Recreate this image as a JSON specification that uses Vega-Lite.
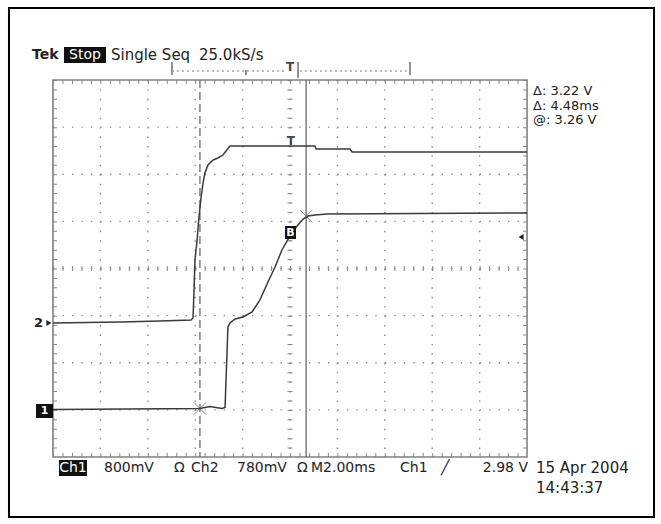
{
  "$schema": "https://vega.github.io/schema/vega-lite/v6.json",
  "width": 661,
  "height": 524,
  "padding": 0,
  "autosize": {"type": "none"},
  "background": "white",
  "config": {"view": {"stroke": null}, "axis": {"disable": true}, "legend": {"disable": true}, "text": {"font": "DejaVu Sans"}},
  "datasets": {
    "traces": [
      {"ch": "CH2", "t": 0, "v": -1.156}, {"ch": "CH2", "t": 2.83, "v": -1.135}, {"ch": "CH2", "t": 4.52, "v": -1.114},
      {"ch": "CH2", "t": 5.82, "v": -1.093}, {"ch": "CH2", "t": 5.91, "v": -1.05}, {"ch": "CH2", "t": 5.95, "v": -0.456},
      {"ch": "CH2", "t": 5.99, "v": 0.18}, {"ch": "CH2", "t": 6.08, "v": 0.605}, {"ch": "CH2", "t": 6.16, "v": 1.093},
      {"ch": "CH2", "t": 6.25, "v": 1.517}, {"ch": "CH2", "t": 6.33, "v": 1.814}, {"ch": "CH2", "t": 6.41, "v": 2.027},
      {"ch": "CH2", "t": 6.54, "v": 2.196}, {"ch": "CH2", "t": 6.75, "v": 2.302}, {"ch": "CH2", "t": 6.96, "v": 2.345},
      {"ch": "CH2", "t": 7.17, "v": 2.408}, {"ch": "CH2", "t": 7.47, "v": 2.599}, {"ch": "CH2", "t": 8.73, "v": 2.599},
      {"ch": "CH2", "t": 10.0, "v": 2.6}, {"ch": "CH2", "t": 11.05, "v": 2.599}, {"ch": "CH2", "t": 11.1, "v": 2.536},
      {"ch": "CH2", "t": 12.53, "v": 2.536}, {"ch": "CH2", "t": 12.62, "v": 2.472}, {"ch": "CH2", "t": 20, "v": 2.472},
      {"ch": "CH1", "t": 0, "v": -2.992}, {"ch": "CH1", "t": 6.2, "v": -2.971}, {"ch": "CH1", "t": 6.62, "v": -2.928},
      {"ch": "CH1", "t": 7.13, "v": -2.971}, {"ch": "CH1", "t": 7.26, "v": -2.95}, {"ch": "CH1", "t": 7.3, "v": -2.366},
      {"ch": "CH1", "t": 7.34, "v": -1.836}, {"ch": "CH1", "t": 7.38, "v": -1.241}, {"ch": "CH1", "t": 7.47, "v": -1.157},
      {"ch": "CH1", "t": 7.68, "v": -1.072}, {"ch": "CH1", "t": 8.02, "v": -1.029}, {"ch": "CH1", "t": 8.4, "v": -0.923},
      {"ch": "CH1", "t": 8.73, "v": -0.668}, {"ch": "CH1", "t": 9.07, "v": -0.286}, {"ch": "CH1", "t": 9.37, "v": 0.032},
      {"ch": "CH1", "t": 9.66, "v": 0.393}, {"ch": "CH1", "t": 10.0, "v": 0.69}, {"ch": "CH1", "t": 10.3, "v": 0.902},
      {"ch": "CH1", "t": 10.55, "v": 1.05}, {"ch": "CH1", "t": 10.76, "v": 1.114}, {"ch": "CH1", "t": 11.06, "v": 1.135},
      {"ch": "CH1", "t": 11.56, "v": 1.156}, {"ch": "CH1", "t": 20, "v": 1.178}
    ],
    "vgrid": [{"t": 2}, {"t": 4}, {"t": 6}, {"t": 8}, {"t": 10}, {"t": 12}, {"t": 14}, {"t": 16}, {"t": 18}],
    "hgrid": [{"v": -3}, {"v": -2}, {"v": -1}, {"v": 0}, {"v": 1}, {"v": 2}, {"v": 3}],
    "cursors": [{"k": "A", "t": 6.2}, {"k": "B", "t": 10.68}],
    "crosses": [{"k": "A", "t": 6.2, "v": -2.971}, {"k": "B", "t": 10.68, "v": 1.11}],
    "bracketSolid": [
      {"t": 5.021, "t2": 5.021, "v": 4.382, "v2": 4.106},
      {"t": 15.063, "t2": 15.063, "v": 4.382, "v2": 4.106},
      {"t": 8.143, "t2": 8.143, "v": 4.212, "v2": 4.106},
      {"t": 10.338, "t2": 10.338, "v": 4.382, "v2": 4.042}
    ],
    "bracketDash": [
      {"t": 5.021, "t2": 9.75, "v": 4.191, "v2": 4.191},
      {"t": 10.42, "t2": 15.063, "v": 4.191, "v2": 4.191}
    ],
    "boxes": [
      {"g": "big", "s": "Stop", "t": 0.464, "t2": 2.236, "v": 4.7, "v2": 4.361, "tc": 1.35, "vc": 4.531},
      {"g": "big", "s": "Ch1", "t": 0.253, "t2": 1.435, "v": -4.064, "v2": -4.403, "tc": 0.844, "vc": -4.233},
      {"g": "small", "s": "1", "t": -0.717, "t2": 0, "v": -2.875, "v2": -3.172, "tc": -0.36, "vc": -3.024},
      {"g": "small", "s": "B", "t": 9.789, "t2": 10.253, "v": 0.902, "v2": 0.626, "tc": 10.02, "vc": 0.764}
    ],
    "texts": [
      {"g": "bold", "s": "Tek", "t": -0.886, "v": 4.531},
      {"g": "hdr", "s": "Single Seq", "t": 2.447, "v": 4.531},
      {"g": "hdr", "s": "25.0kS/s", "t": 6.16, "v": 4.531},
      {"g": "read", "s": "Δ: 3.22 V", "t": 20.253, "v": 3.767},
      {"g": "read", "s": "Δ: 4.48ms", "t": 20.253, "v": 3.457},
      {"g": "read", "s": "@: 3.26 V", "t": 20.253, "v": 3.151},
      {"g": "bot", "s": "800mV", "t": 2.152, "v": -4.233},
      {"g": "bot", "s": "Ω", "t": 5.105, "v": -4.233},
      {"g": "bot", "s": "Ch2", "t": 5.823, "v": -4.233},
      {"g": "bot", "s": "780mV", "t": 7.764, "v": -4.233},
      {"g": "bot", "s": "Ω", "t": 10.3, "v": -4.233},
      {"g": "bot", "s": "M2.00ms", "t": 10.886, "v": -4.233},
      {"g": "bot", "s": "Ch1", "t": 14.641, "v": -4.233},
      {"g": "bot", "s": "╱", "t": 16.371, "v": -4.233},
      {"g": "botr", "s": "2.98 V", "t": 20.042, "v": -4.233},
      {"g": "hdr", "s": "15 Apr 2004", "t": 20.38, "v": -4.233},
      {"g": "hdr", "s": "14:43:37", "t": 20.38, "v": -4.658},
      {"g": "chan", "s": "2", "t": -0.42, "v": -1.156},
      {"g": "trig", "s": "T", "t": 10.04, "v": 2.716},
      {"g": "trig", "s": "T", "t": 10.0, "v": 4.276}
    ],
    "arrows": [
      {"k": "right", "t": -0.17, "v": -1.156},
      {"k": "left", "t": 19.75, "v": 0.668}
    ]
  },
  "layer": [
    {
      "data": {"values": [{}]},
      "mark": {"type": "rect", "fillOpacity": 0, "stroke": "#000", "strokeWidth": 2},
      "encoding": {
        "x": {"datum": -1.857, "type": "quantitative", "scale": {"domain": [-2.236, 25.654], "nice": false, "zero": false}}, "x2": {"datum": 25.359},
        "y": {"datum": 5.528, "type": "quantitative", "scale": {"domain": [-5.422, 5.698], "nice": false, "zero": false}}, "y2": {"datum": -5.273}
      }
    },
    {
      "data": {"name": "vgrid"},
      "mark": {"type": "rule", "color": "#8a8a8a", "strokeWidth": 1.4, "strokeDash": [1.4, 8.025]},
      "encoding": {
        "x": {"field": "t", "type": "quantitative", "scale": {"domain": [-2.236, 25.654], "nice": false, "zero": false}},
        "y": {"datum": 4, "type": "quantitative", "scale": {"domain": [-5.422, 5.698], "nice": false, "zero": false}}, "y2": {"datum": -4}
      }
    },
    {
      "data": {"name": "hgrid"},
      "mark": {"type": "rule", "color": "#8a8a8a", "strokeWidth": 1.4, "strokeDash": [1.4, 8.08]},
      "encoding": {
        "x": {"datum": 0, "type": "quantitative", "scale": {"domain": [-2.236, 25.654], "nice": false, "zero": false}}, "x2": {"datum": 20},
        "y": {"field": "v", "type": "quantitative", "scale": {"domain": [-5.422, 5.698], "nice": false, "zero": false}}
      }
    },
    {
      "data": {"values": [{"t": 10}]},
      "mark": {"type": "rule", "color": "#8a8a8a", "strokeWidth": 5, "strokeDash": [1, 8.425]},
      "encoding": {
        "x": {"field": "t", "type": "quantitative"},
        "y": {"datum": 4, "type": "quantitative"}, "y2": {"datum": -4}
      }
    },
    {
      "data": {"values": [{"v": 0}]},
      "mark": {"type": "rule", "color": "#8a8a8a", "strokeWidth": 5, "strokeDash": [1, 8.48]},
      "encoding": {
        "x": {"datum": 0, "type": "quantitative"}, "x2": {"datum": 20},
        "y": {"field": "v", "type": "quantitative"}
      }
    },
    {
      "data": {"values": [{"t": 0.084}, {"t": 19.916}]},
      "mark": {"type": "rule", "color": "#8a8a8a", "strokeWidth": 4, "strokeDash": [1, 8.425]},
      "encoding": {
        "x": {"field": "t", "type": "quantitative"},
        "y": {"datum": 4, "type": "quantitative"}, "y2": {"datum": -4}
      }
    },
    {
      "data": {"values": [{"v": -3.958}, {"v": 3.958}]},
      "mark": {"type": "rule", "color": "#8a8a8a", "strokeWidth": 4, "strokeDash": [1, 8.48]},
      "encoding": {
        "x": {"datum": 0, "type": "quantitative"}, "x2": {"datum": 20},
        "y": {"field": "v", "type": "quantitative"}
      }
    },
    {
      "data": {"values": [{}]},
      "mark": {"type": "rect", "fillOpacity": 0, "stroke": "#808080", "strokeWidth": 1.6},
      "encoding": {
        "x": {"datum": 0, "type": "quantitative"}, "x2": {"datum": 20},
        "y": {"datum": 4, "type": "quantitative"}, "y2": {"datum": -4}
      }
    },
    {
      "data": {"name": "bracketSolid"},
      "mark": {"type": "rule", "color": "#555", "strokeWidth": 1.3},
      "encoding": {
        "x": {"field": "t", "type": "quantitative"}, "x2": {"field": "t2"},
        "y": {"field": "v", "type": "quantitative"}, "y2": {"field": "v2"}
      }
    },
    {
      "data": {"name": "bracketDash"},
      "mark": {"type": "rule", "color": "#777", "strokeWidth": 1, "strokeDash": [2, 3]},
      "encoding": {
        "x": {"field": "t", "type": "quantitative"}, "x2": {"field": "t2"},
        "y": {"field": "v", "type": "quantitative"}, "y2": {"field": "v2"}
      }
    },
    {
      "data": {"name": "cursors"},
      "mark": {"type": "rule", "color": "#6a6a6a", "strokeWidth": 1.3},
      "encoding": {
        "x": {"field": "t", "type": "quantitative"},
        "y": {"datum": 4, "type": "quantitative"}, "y2": {"datum": -4},
        "strokeDash": {"field": "k", "type": "nominal", "scale": {"domain": ["A", "B"], "range": [[8, 4], [1, 0]]}, "legend": null}
      }
    },
    {
      "data": {"name": "traces"},
      "mark": {"type": "line", "color": "#3a3a3a", "strokeWidth": 1.5},
      "encoding": {
        "x": {"field": "t", "type": "quantitative"},
        "y": {"field": "v", "type": "quantitative"},
        "detail": {"field": "ch", "type": "nominal"}
      }
    },
    {
      "data": {"name": "crosses"},
      "mark": {"type": "point", "shape": "M-1,-1L1,1M-1,1L1,-1", "size": 150, "filled": false, "color": "#555", "strokeWidth": 1},
      "encoding": {
        "x": {"field": "t", "type": "quantitative"},
        "y": {"field": "v", "type": "quantitative"}
      }
    },
    {
      "data": {"name": "boxes"},
      "mark": {"type": "rect", "color": "#111"},
      "encoding": {
        "x": {"field": "t", "type": "quantitative"}, "x2": {"field": "t2"},
        "y": {"field": "v", "type": "quantitative"}, "y2": {"field": "v2"}
      }
    },
    {
      "data": {"name": "boxes"},
      "transform": [{"filter": "datum.g === 'big'"}],
      "mark": {"type": "text", "color": "white", "fontSize": 14, "align": "center", "baseline": "middle"},
      "encoding": {"x": {"field": "tc", "type": "quantitative"}, "y": {"field": "vc", "type": "quantitative"}, "text": {"field": "s"}}
    },
    {
      "data": {"name": "boxes"},
      "transform": [{"filter": "datum.g === 'small'"}],
      "mark": {"type": "text", "color": "white", "fontSize": 11, "fontWeight": "bold", "align": "center", "baseline": "middle"},
      "encoding": {"x": {"field": "tc", "type": "quantitative"}, "y": {"field": "vc", "type": "quantitative"}, "text": {"field": "s"}}
    },
    {
      "data": {"name": "texts"},
      "transform": [{"filter": "datum.g === 'hdr'"}],
      "mark": {"type": "text", "color": "#222", "fontSize": 15, "align": "left", "baseline": "middle"},
      "encoding": {"x": {"field": "t", "type": "quantitative"}, "y": {"field": "v", "type": "quantitative"}, "text": {"field": "s"}}
    },
    {
      "data": {"name": "texts"},
      "transform": [{"filter": "datum.g === 'read'"}],
      "mark": {"type": "text", "color": "#222", "fontSize": 13, "align": "left", "baseline": "middle"},
      "encoding": {"x": {"field": "t", "type": "quantitative"}, "y": {"field": "v", "type": "quantitative"}, "text": {"field": "s"}}
    },
    {
      "data": {"name": "texts"},
      "transform": [{"filter": "datum.g === 'bold'"}],
      "mark": {"type": "text", "color": "#222", "fontSize": 14, "fontWeight": "bold", "align": "left", "baseline": "middle"},
      "encoding": {"x": {"field": "t", "type": "quantitative"}, "y": {"field": "v", "type": "quantitative"}, "text": {"field": "s"}}
    },
    {
      "data": {"name": "texts"},
      "transform": [{"filter": "datum.g === 'bot'"}],
      "mark": {"type": "text", "color": "#222", "fontSize": 14, "align": "left", "baseline": "middle"},
      "encoding": {"x": {"field": "t", "type": "quantitative"}, "y": {"field": "v", "type": "quantitative"}, "text": {"field": "s"}}
    },
    {
      "data": {"name": "texts"},
      "transform": [{"filter": "datum.g === 'botr'"}],
      "mark": {"type": "text", "color": "#222", "fontSize": 14, "align": "right", "baseline": "middle"},
      "encoding": {"x": {"field": "t", "type": "quantitative"}, "y": {"field": "v", "type": "quantitative"}, "text": {"field": "s"}}
    },
    {
      "data": {"name": "texts"},
      "transform": [{"filter": "datum.g === 'chan'"}],
      "mark": {"type": "text", "color": "#222", "fontSize": 13, "fontWeight": "bold", "align": "right", "baseline": "middle"},
      "encoding": {"x": {"field": "t", "type": "quantitative"}, "y": {"field": "v", "type": "quantitative"}, "text": {"field": "s"}}
    },
    {
      "data": {"name": "texts"},
      "transform": [{"filter": "datum.g === 'trig'"}],
      "mark": {"type": "text", "color": "#444", "fontSize": 12, "fontWeight": "bold", "align": "center", "baseline": "middle"},
      "encoding": {"x": {"field": "t", "type": "quantitative"}, "y": {"field": "v", "type": "quantitative"}, "text": {"field": "s"}}
    },
    {
      "data": {"name": "arrows"},
      "mark": {"type": "point", "filled": true, "color": "#222", "size": 35, "opacity": 1},
      "encoding": {
        "x": {"field": "t", "type": "quantitative"},
        "y": {"field": "v", "type": "quantitative"},
        "shape": {"field": "k", "type": "nominal", "scale": {"domain": ["right", "left"], "range": ["triangle-right", "triangle-left"]}, "legend": null}
      }
    }
  ]
}
